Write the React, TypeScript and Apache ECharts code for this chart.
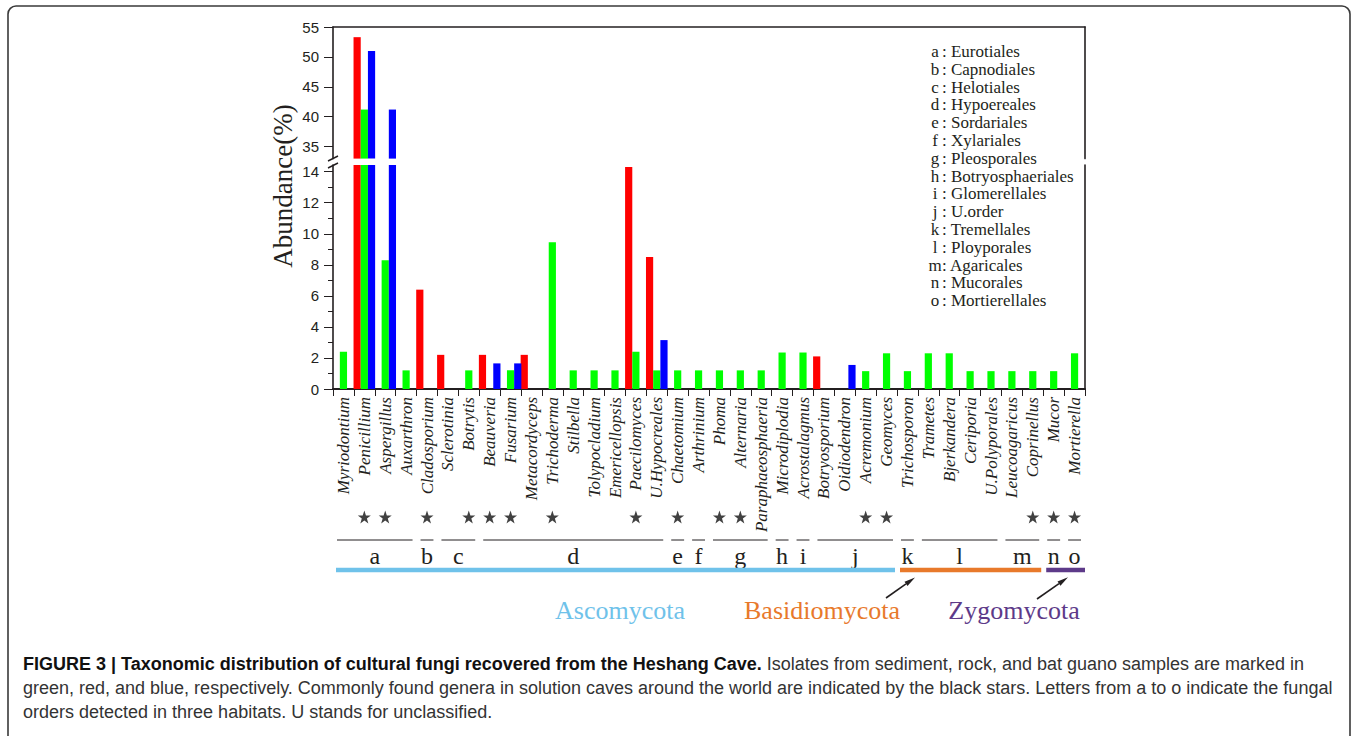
import React, { useEffect, useRef } from "react";
import * as echarts from "echarts";

// ---------------- data ----------------
const genera = [
  "Myriodontium", "Penicillium", "Aspergillus", "Auxarthron", "Cladosporium", "Sclerotinia",
  "Botrytis", "Beauveria", "Fusarium", "Metacordyceps", "Trichoderma", "Stilbella",
  "Tolypocladium", "Emericellopsis", "Paecilomyces", "U.Hypocreales", "Chaetomium", "Arthrinium",
  "Phoma", "Alternaria", "Paraphaeosphaeria", "Microdiplodia", "Acrostalagmus", "Botryosporium",
  "Oidiodendron", "Acremonium", "Geomyces", "Trichosporon", "Trametes", "Bjerkandera",
  "Ceriporia", "U.Polyporales", "Leucoagaricus", "Coprinellus", "Mucor", "Mortierella",
];

// rock samples (red)
const rock = [
  null, 53.3, null, null, 6.4, 2.2, null, 2.2, null, 2.2, null, null,
  null, null, 14.3, 8.5, null, null, null, null, null, null, null, 2.1,
  null, null, null, null, null, null, null, null, null, null, null, null,
];
// sediment samples (green)
const sediment = [
  2.4, 41.2, 8.3, 1.2, null, null, 1.2, null, 1.2, null, 9.45, 1.2,
  1.2, 1.2, 2.4, 1.2, 1.2, 1.2, 1.2, 1.2, 1.2, 2.35, 2.35, null,
  null, 1.15, 2.3, 1.15, 2.3, 2.3, 1.15, 1.15, 1.15, 1.15, 1.15, 2.3,
];
// bat guano samples (blue)
const guano = [
  null, 51.0, 41.2, null, null, null, null, 1.65, 1.65, null, null, null,
  null, null, null, 3.15, null, null, null, null, null, null, null, null,
  1.55, null, null, null, null, null, null, null, null, null, null, null,
];

const starred = [
  "Penicillium", "Aspergillus", "Cladosporium", "Botrytis", "Beauveria", "Fusarium",
  "Trichoderma", "Paecilomyces", "Chaetomium", "Phoma", "Alternaria", "Acremonium",
  "Geomyces", "Coprinellus", "Mucor", "Mortierella",
];

const genusOrder = [
  "a", "a", "a", "a", "b", "c", "c", "d", "d", "d", "d", "d",
  "d", "d", "d", "d", "e", "f", "g", "g", "g", "h", "i", "j",
  "j", "j", "j", "k", "l", "l", "l", "l", "m", "m", "n", "o",
];
const orderLetters = ["a", "b", "c", "d", "e", "f", "g", "h", "i", "j", "k", "l", "m", "n", "o"];
const orderNames = [
  "Eurotiales", "Capnodiales", "Helotiales", "Hypoereales", "Sordariales", "Xylariales",
  "Pleosporales", "Botryosphaeriales", "Glomerellales", "U.order", "Tremellales",
  "Ployporales", "Agaricales", "Mucorales", "Mortierellales",
];
const orderPhylum = [
  "Ascomycota", "Ascomycota", "Ascomycota", "Ascomycota", "Ascomycota", "Ascomycota",
  "Ascomycota", "Ascomycota", "Ascomycota", "Ascomycota", "Basidiomycota",
  "Basidiomycota", "Basidiomycota", "Zygomycota", "Zygomycota",
];
const phyla = ["Ascomycota", "Basidiomycota", "Zygomycota"];

const upperTicks = [35, 40, 45, 50, 55];
const lowerTicks = [0, 2, 4, 6, 8, 10, 12, 14];
const lowerMinorTicks = [1, 3, 5, 7, 9, 11, 13];

const captionBold = "FIGURE 3 | Taxonomic distribution of cultural fungi recovered from the Heshang Cave.";
const captionLines = [
  " Isolates from sediment, rock, and bat guano samples are marked in",
  "green, red, and blue, respectively. Commonly found genera in solution caves around the world are indicated by the black stars. Letters from a to o indicate the fungal",
  "orders detected in three habitats. U stands for unclassified.",
];

// ---------------- styles ----------------
const INK = "#231f20";
const SERIF = '"Liberation Serif", "Times New Roman", serif';
const SANS = '"Liberation Sans", Arial, sans-serif';
const RED = "#ff0000";
const GREEN = "#00ff00";
const BLUE = "#0000ff";
const phylumColors: Record<string, string> = {
  Ascomycota: "#6fc2ea",
  Basidiomycota: "#e8792b",
  Zygomycota: "#5d3a89",
};

const STAR = "path://M50,2 L61.8,36.2 L97.6,36.2 L68.6,57.4 L79.4,92 L50,70.8 L20.6,92 L31.4,57.4 L2.4,36.2 L38.2,36.2 Z";

const GX = 333;
const GW = 752;
const UPPER_MIN = 33;
const UPPER_MAX = 55;
const LOWER_MAX = 14.43;

function runs(keys: string[]) {
  const out: { key: string; start: number; end: number }[] = [];
  keys.forEach((k, i) => {
    const last = out[out.length - 1];
    if (last && last.key === k) last.end = i;
    else out.push({ key: k, start: i, end: i });
  });
  return out;
}

function arrow(x1: number, y1: number, x2: number, y2: number) {
  const dx = x2 - x1, dy = y2 - y1;
  const len = Math.sqrt(dx * dx + dy * dy);
  const ux = dx / len, uy = dy / len;
  const bx = x2 - ux * 11, by = y2 - uy * 11;
  const px = -uy * 2.6, py = ux * 2.6;
  return [
    { type: "line", shape: { x1, y1, x2: bx, y2: by }, style: { stroke: INK, lineWidth: 1.6 } },
    {
      type: "polygon",
      shape: { points: [[x2, y2], [bx + px, by + py], [bx - px, by - py]] },
      style: { fill: INK },
    },
  ];
}

function txt(x: number, y: number, text: string, extra: any = {}, elExtra: any = {}) {
  const align = extra.align || "left";
  const valign = extra.verticalAlign || "middle";
  return {
    type: "text",
    x,
    y,
    ...elExtra,
    style: {
      text,
      fill: INK,
      fontFamily: SERIF,
      fontSize: 16,
      ...extra,
      align,
      verticalAlign: valign,
      textAlign: align,
      textVerticalAlign: valign,
    },
  };
}

export default function App() {
  const ref = useRef<HTMLDivElement>(null);

  useEffect(() => {
    if (!ref.current) return;
    const chart = echarts.init(ref.current, null, { renderer: "svg" });

    const genusIndex = genusOrder.map((_, i) => i);
    const orderGroups = runs(genusOrder);
    const phylumGroups = runs(genusIndex.map((i) => orderPhylum[orderLetters.indexOf(genusOrder[i])]));

    const barSeries = (xi: number, yi: number) => [
      { name: "Rock", data: rock, color: RED },
      { name: "Sediment", data: sediment, color: GREEN },
      { name: "Bat guano", data: guano, color: BLUE },
    ].map((s) => ({
      type: "bar",
      name: s.name,
      xAxisIndex: xi,
      yAxisIndex: yi,
      data: s.data,
      barWidth: 7.2,
      barGap: "0%",
      clip: true,
      itemStyle: { color: s.color },
      emphasis: { disabled: true },
    }));

    const hiddenCat = (gi: number) => ({
      type: "category",
      gridIndex: gi,
      data: genera,
      show: false,
    });

    const legendEls: any[] = [];
    orderLetters.forEach((l, i) => {
      const y = 51.5 + i * 17.8;
      legendEls.push(txt(935, y, l, { fontSize: 17, align: "center" }));
      legendEls.push(txt(942, y, ": " + orderNames[i], { fontSize: 17 }));
    });

    const option: any = {
      animation: false,
      backgroundColor: "#ffffff",
      grid: [
        { left: GX, top: 27, width: GW, height: 131.6 },
        { left: GX, top: 165, width: GW, height: 224 },
        { left: GX, top: 505, width: GW, height: 24 },
        { left: GX, top: 530, width: GW, height: 50 },
      ],
      xAxis: [
        {
          type: "category",
          gridIndex: 0,
          data: genera,
          position: "top",
          axisLine: { show: true, onZero: false, lineStyle: { color: INK, width: 1.6 } },
          axisTick: { show: false },
          axisLabel: { show: false },
        },
        {
          type: "category",
          gridIndex: 1,
          data: genera,
          position: "bottom",
          axisLine: { show: true, onZero: false, lineStyle: { color: INK, width: 2 } },
          axisTick: { show: true, interval: 0, length: 7, lineStyle: { color: INK, width: 1 } },
          axisLabel: {
            interval: 0,
            rotate: 90,
            margin: 8,
            color: INK,
            fontFamily: SERIF,
            fontStyle: "italic",
            fontSize: 17,
          },
        },
        hiddenCat(2),
        hiddenCat(3),
      ],
      yAxis: [
        {
          type: "value",
          gridIndex: 0,
          min: UPPER_MIN,
          max: UPPER_MAX,
          position: "left",
          axisLine: { show: true, lineStyle: { color: INK, width: 1.6 } },
          axisTick: { show: true, length: 9, customValues: upperTicks, lineStyle: { color: INK } },
          axisLabel: { customValues: upperTicks, margin: 14, color: INK, fontFamily: SANS, fontSize: 15 },
          splitLine: { show: false },
        },
        {
          type: "value",
          gridIndex: 1,
          min: 0,
          max: LOWER_MAX,
          position: "left",
          axisLine: { show: true, lineStyle: { color: INK, width: 1.6 } },
          axisTick: { show: true, length: 9, customValues: lowerTicks, lineStyle: { color: INK } },
          axisLabel: { customValues: lowerTicks, margin: 14, color: INK, fontFamily: SANS, fontSize: 15 },
          splitLine: { show: false },
        },
        {
          type: "value",
          gridIndex: 1,
          min: 0,
          max: LOWER_MAX,
          position: "left",
          axisLine: { show: false },
          axisTick: { show: true, length: 5, customValues: lowerMinorTicks, lineStyle: { color: INK } },
          axisLabel: { show: false },
          splitLine: { show: false },
        },
        {
          type: "value",
          gridIndex: 0,
          min: UPPER_MIN,
          max: UPPER_MAX,
          position: "right",
          axisLine: { show: true, lineStyle: { color: INK, width: 1.6 } },
          axisTick: { show: false },
          axisLabel: { show: false },
          splitLine: { show: false },
        },
        {
          type: "value",
          gridIndex: 1,
          min: 0,
          max: LOWER_MAX,
          position: "right",
          axisLine: { show: true, lineStyle: { color: INK, width: 1.6 } },
          axisTick: { show: false },
          axisLabel: { show: false },
          splitLine: { show: false },
        },
        { type: "value", gridIndex: 2, min: 0, max: 1, show: false },
        { type: "value", gridIndex: 3, min: 0, max: 1, show: false },
      ],
      series: [
        ...barSeries(0, 0),
        ...barSeries(1, 1),
        {
          type: "scatter",
          name: "Common in solution caves",
          xAxisIndex: 2,
          yAxisIndex: 5,
          symbol: STAR,
          symbolSize: 13,
          itemStyle: { color: "#111" },
          data: starred.map((g) => [g, 0.5]),
          emphasis: { disabled: true },
        },
        {
          type: "custom",
          name: "Orders",
          xAxisIndex: 3,
          yAxisIndex: 6,
          data: orderGroups.map((g) => [g.start, g.end]),
          renderItem: (params: any, api: any) => {
            const s = api.value(0);
            const e = api.value(1);
            const bw = api.size([1, 0])[0];
            const x0 = api.coord([s, 0])[0] - bw / 2 + 4;
            const x1 = api.coord([e, 0])[0] + bw / 2 - 4;
            const y = params.coordSys.y + 10;
            const letter = orderGroups[params.dataIndex].key;
            return {
              type: "group",
              children: [
                { type: "line", shape: { x1: x0, y1: y, x2: x1, y2: y }, style: { stroke: INK, lineWidth: 1 } },
                {
                  type: "text",
                  x: (x0 + x1) / 2,
                  y: y + 16,
                  style: {
                    text: letter,
                    fill: INK,
                    fontFamily: SERIF,
                    fontSize: 24,
                    align: "center",
                    verticalAlign: "middle",
                    textAlign: "center",
                    textVerticalAlign: "middle",
                  },
                },
              ],
            };
          },
        },
        {
          type: "custom",
          name: "Phyla",
          xAxisIndex: 3,
          yAxisIndex: 6,
          data: phylumGroups.map((g) => [g.start, g.end]),
          renderItem: (params: any, api: any) => {
            const s = api.value(0);
            const e = api.value(1);
            const bw = api.size([1, 0])[0];
            const x0 = api.coord([s, 0])[0] - bw / 2 + 3;
            const x1 = api.coord([e, 0])[0] + bw / 2 - (params.dataIndex === phylumGroups.length - 1 ? 0 : 2);
            const y = params.coordSys.y + 40;
            return {
              type: "line",
              shape: { x1: x0, y1: y, x2: x1, y2: y },
              style: { stroke: phylumColors[phylumGroups[params.dataIndex].key], lineWidth: 4.5 },
            };
          },
        },
      ],
      graphic: [
        {
          type: "rect",
          shape: { x: 8, y: 6, width: 1342, height: 760, r: 8 },
          style: { fill: "none", stroke: "#3a3a3a", lineWidth: 1.6 },
          silent: true,
        },
        // axis break marks
        { type: "line", shape: { x1: 328, y1: 161, x2: 338, y2: 156 }, style: { stroke: INK, lineWidth: 1.4 } },
        { type: "line", shape: { x1: 328, y1: 168, x2: 338, y2: 163 }, style: { stroke: INK, lineWidth: 1.4 } },
        txt(283, 186, "Abundance(%)", { fontSize: 27, align: "center" }, { rotation: Math.PI / 2 }),
        ...legendEls,
        txt(620, 610, phyla[0], { fontSize: 26, align: "center", fill: phylumColors.Ascomycota }),
        txt(822, 610, phyla[1], { fontSize: 26, align: "center", fill: phylumColors.Basidiomycota }),
        txt(1014, 610, phyla[2], { fontSize: 26, align: "center", fill: phylumColors.Zygomycota }),
        ...arrow(886, 598, 915, 577.5),
        ...arrow(1037, 599, 1068, 577.3),
        {
          type: "text",
          x: 23,
          y: 664,
          style: {
            text: "{b|" + captionBold + "}" + captionLines[0],
            fill: "#333",
            fontFamily: SANS,
            fontSize: 18,
            verticalAlign: "middle",
            textVerticalAlign: "middle",
            rich: { b: { fontWeight: "bold", fill: "#111", fontFamily: SANS, fontSize: 18 } },
          },
        },
        txt(23, 688, captionLines[1], { fontFamily: SANS, fontSize: 18, fill: "#333" }),
        txt(23, 712, captionLines[2], { fontFamily: SANS, fontSize: 18, fill: "#333" }),
      ],
    };

    chart.setOption(option);
    return () => chart.dispose();
  }, []);

  return (
    <div
      ref={ref}
      style={{ position: "fixed", left: 0, top: 0, width: 1357, height: 736, background: "#fff" }}
    />
  );
}
